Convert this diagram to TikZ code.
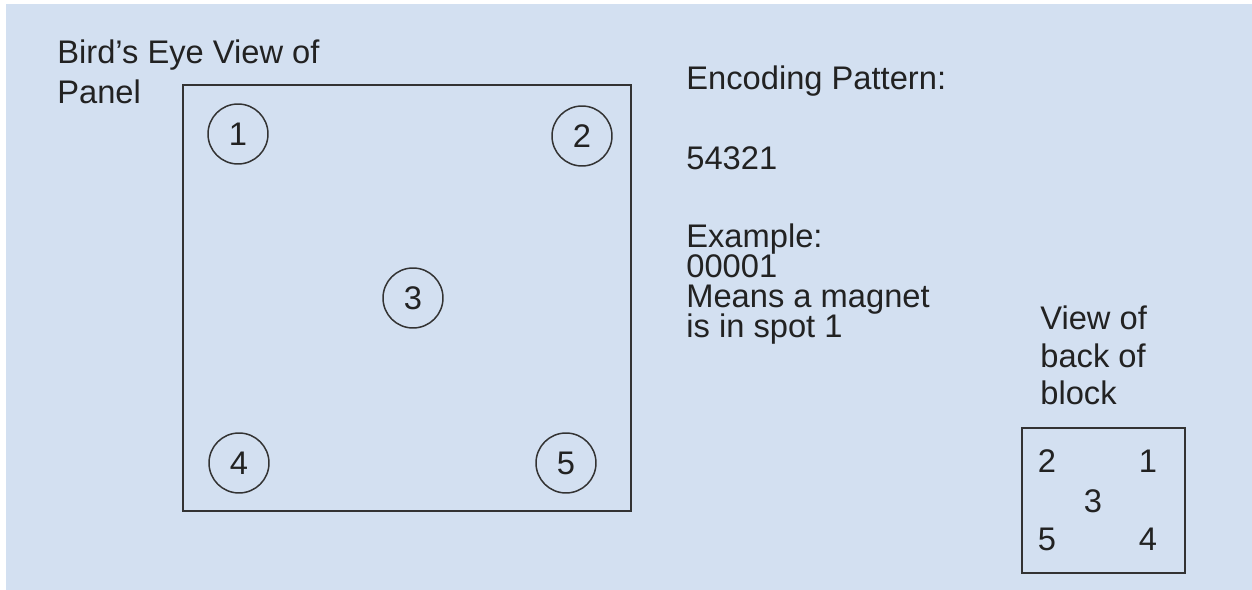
\documentclass[tikz,border=0pt]{standalone}
\usepackage{fontspec}
\setmainfont{Liberation Sans}
\definecolor{bgblue}{RGB}{211,224,241}
\definecolor{ink}{RGB}{34,34,34}
\definecolor{edge}{RGB}{51,51,51}
\begin{document}
\begin{tikzpicture}[x=0.02cm,y=-0.02cm,
  txt/.style={anchor=base west,inner sep=0pt,text=ink,font=\fontsize{18.6}{20}\selectfont},
  num/.style={inner sep=0pt,text=ink,font=\fontsize{18.6}{20}\selectfont},
  spot/.style={circle,draw=edge,line width=0.85pt,minimum size=1.2cm,inner sep=0pt,text=ink,font=\fontsize{18.6}{20}\selectfont},
  frame/.style={draw=edge,line width=0.85pt}]
\useasboundingbox (0,0) rectangle (1252,590);
\fill[white] (0,0) rectangle (1252,590);
\fill[bgblue] (6,4) rectangle (1252,590);
% titles
\node[txt] (t1) at (57,64) {Bird’s Eye View of};
\node[txt] (t2) at (57,104) {Panel};
% panel
\draw[frame] (183,85) rectangle (631,511);
\node[spot] (s1) at (238,134) {1};
\node[spot] (s2) at (582,136) {2};
\node[spot] (s3) at (413,298) {3};
\node[spot] (s4) at (239,463) {4};
\node[spot] (s5) at (566,463) {5};
% encoding text
\node[txt] (e1) at (686,90) {Encoding Pattern:};
\node[txt] (e2) at (686,170) {54321};
\node[txt] (e3) at (686,248) {Example:};
\node[txt] (e4) at (686,278) {00001};
\node[txt] (e5) at (686,308) {Means a magnet};
\node[txt] (e6) at (686,338) {is in spot 1};
% back view
\node[txt] (v1) at (1040,330) {View of};
\node[txt] (v2) at (1040,368) {back of};
\node[txt] (v3) at (1040,405) {block};
\draw[frame] (1022,428) rectangle (1185,573);
\node[num,anchor=base] (b2) at (1047,473) {2};
\node[num,anchor=base] (b1) at (1148,473) {1};
\node[num,anchor=base] (b3) at (1093,513) {3};
\node[num,anchor=base] (b5) at (1047,551) {5};
\node[num,anchor=base] (b4) at (1148,551) {4};
\end{tikzpicture}
\end{document}
